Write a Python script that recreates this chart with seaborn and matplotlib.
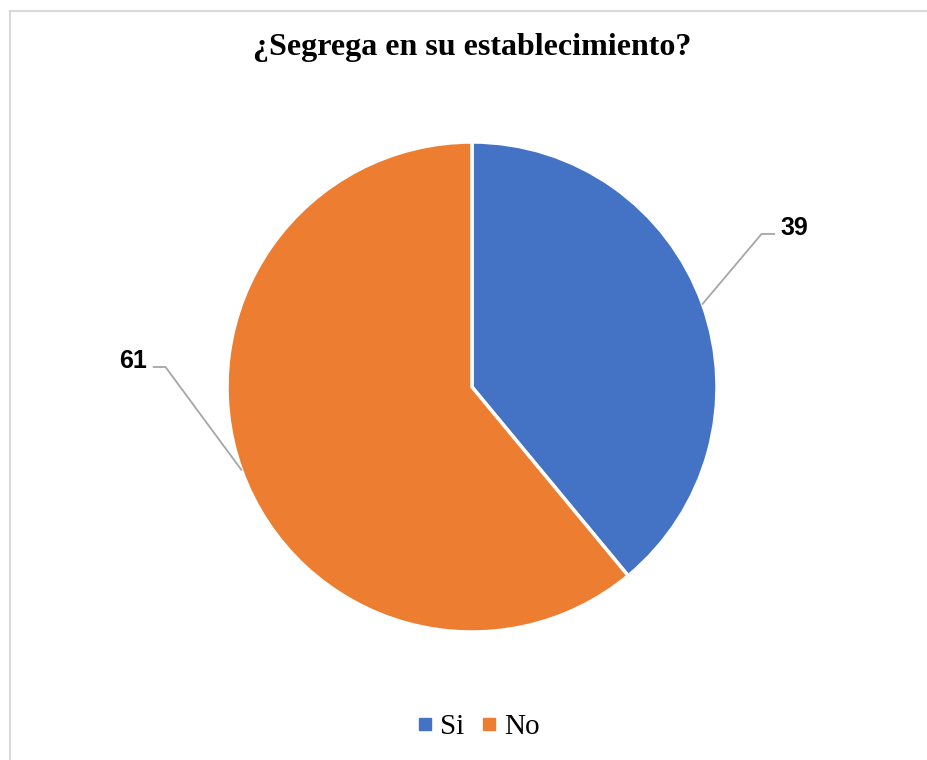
import numpy as np
import matplotlib.pyplot as plt
import seaborn as sns
from matplotlib.lines import Line2D

labels = ['Si', 'No']
values = [39, 61]
colors = ['#4472C4', '#ED7D31']
title = '¿Segrega en su establecimiento?'

sns.set_style('white')
plt.rcParams['text.color'] = 'black'

fig = plt.figure(figsize=(9.28, 7.6), dpi=100)
ax = fig.add_axes([0, 0, 1, 1])

# chart border (only top and left edges visible in the crop)
ax.plot([10.5, 10.5], [0, 749.5], color='#d9d9d9', lw=1.5)
ax.plot([10.5, 928], [749.5, 749.5], color='#d9d9d9', lw=1.5)

cx, cy, r = 472, 373, 245
wedges, _ = ax.pie(values, colors=colors, startangle=90, counterclock=False,
                   center=(cx, cy), radius=r, frame=True,
                   wedgeprops=dict(edgecolor='white', linewidth=2.5))
ax.set_xlim(0, 928)
ax.set_ylim(0, 760)
ax.set_aspect('equal')
ax.axis('off')

# data labels with elbow leader lines
for w, v in zip(wedges, values):
    ang = np.deg2rad((w.theta1 + w.theta2) / 2)
    ex, ey = cx + r * np.cos(ang), cy + r * np.sin(ang)
    side = 1 if np.cos(ang) > 0 else -1
    if side > 0:
        kx, ky = ex + 59, ey + 70
        hx = kx + 13
    else:
        kx, ky = ex - 76, ey + 103
        hx = kx - 12
    ax.plot([ex, kx, hx], [ey, ky, ky], color='#a6a6a6', lw=1.3)
    ax.text(hx + side * 6, ky + 6, str(v), ha='left' if side > 0 else 'right',
            va='center', fontsize=18, fontweight='bold', color='black',
            family='Liberation Sans')

ax.text(472, 712, title, ha='center', va='center', fontsize=23,
        fontweight='bold', color='black', family='Liberation Serif')

handles = [Line2D([], [], marker='s', color=c, linestyle='', markersize=8)
           for c in colors]
fig.legend(handles, labels, loc='center', bbox_to_anchor=(478 / 928, 1 - 727 / 760),
           ncol=2, frameon=False, handlelength=0.6, handletextpad=0.22,
           columnspacing=0.55,
           prop={'family': 'Liberation Serif', 'size': 21})

fig.savefig('out.png', dpi=100)
